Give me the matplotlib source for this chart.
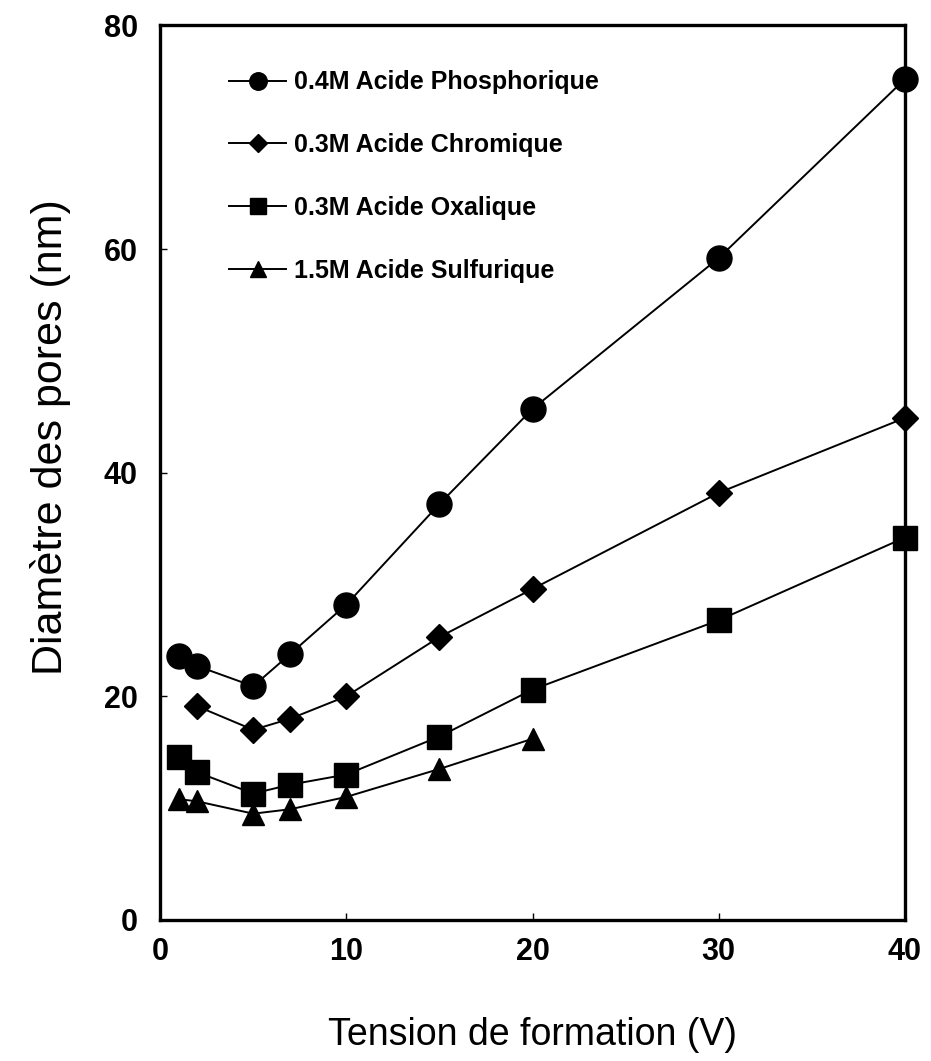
import numpy as np
import matplotlib
matplotlib.use("Agg")
import matplotlib.pyplot as plt

plt.rcParams['font.family'] = ['Liberation Sans', 'DejaVu Sans']

# data: voltage (V) vs pore diameter (nm)
v_phos = [1, 2, 5, 7, 10, 15, 20, 30, 40]
d_phos = [23.6, 22.7, 20.9, 23.8, 28.2, 37.2, 45.7, 59.2, 75.2]

v_chrom = [2, 5, 7, 10, 15, 20, 30, 40]
d_chrom = [19.1, 17.0, 18.0, 20.0, 25.3, 29.6, 38.2, 44.9]

v_oxal = [1, 2, 5, 7, 10, 15, 20, 30, 40]
d_oxal = [14.6, 13.2, 11.3, 12.1, 13.0, 16.4, 20.6, 26.8, 34.2]

v_sulf = [1, 2, 5, 7, 10, 15, 20]
d_sulf = [10.8, 10.6, 9.5, 9.9, 11.0, 13.5, 16.2]

labels = ['0.4M Acide Phosphorique', '0.3M Acide Chromique',
          '0.3M Acide Oxalique', '1.5M Acide Sulfurique']

fig = plt.figure(figsize=(9.31, 10.61), dpi=100)
ax = fig.add_axes([0.172, 0.133, 0.800, 0.843])

ax.plot(v_phos, d_phos, '-o', color='black', lw=1.4, ms=18, label=labels[0], clip_on=False)
ax.plot(v_chrom, d_chrom, '-D', color='black', lw=1.4, ms=13, label=labels[1], clip_on=False)
ax.plot(v_oxal, d_oxal, '-s', color='black', lw=1.4, ms=17, label=labels[2], clip_on=False)
ax.plot(v_sulf, d_sulf, '-^', color='black', lw=1.4, ms=16, label=labels[3], clip_on=False)

ax.set_xlim(0, 40)
ax.set_ylim(0, 80)
ax.set_xticks([0, 10, 20, 30, 40])
ax.set_yticks([0, 20, 40, 60, 80])
ax.tick_params(direction='in', length=5, width=1, labelsize=22)
ax.tick_params(axis='x', pad=12)
ax.tick_params(axis='y', pad=16)
for lab in ax.get_xticklabels() + ax.get_yticklabels():
    lab.set_fontweight('bold')
for sp in ax.spines.values():
    sp.set_linewidth(2.4)

ax.set_xlabel('Tension de formation (V)', fontsize=27, labelpad=36)
ax.set_ylabel('Diamètre des pores (nm)', fontsize=31)
ax.yaxis.set_label_coords(-0.12, 0.54)

leg = ax.legend(loc='upper left', bbox_to_anchor=(0.062, 0.975), frameon=False,
                prop={'weight': 'bold', 'size': 18}, markerscale=0.7,
                handlelength=2.3, handletextpad=0.3, labelspacing=1.55)

fig.savefig('out.png', dpi=100)
